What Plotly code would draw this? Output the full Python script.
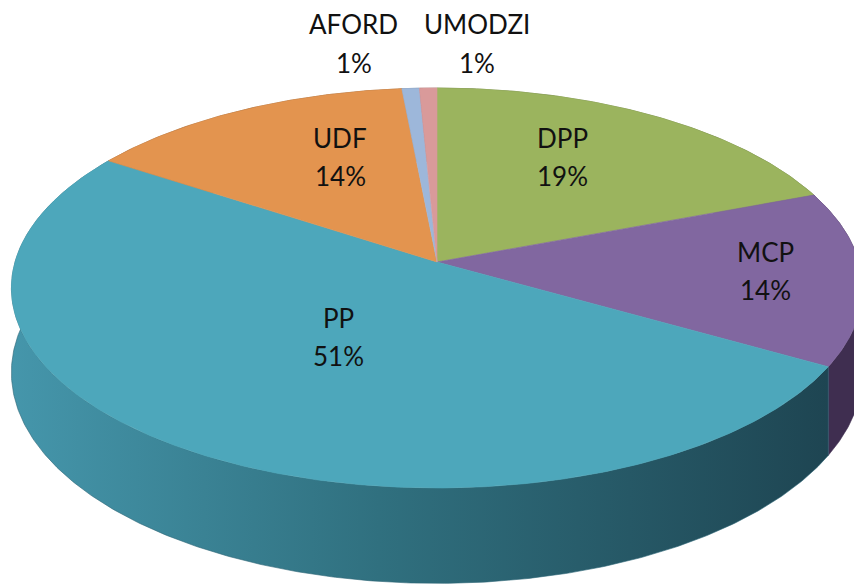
import numpy as np
import plotly.graph_objects as go

# ---- data ----
parties = ["DPP", "MCP", "PP", "UDF", "AFORD", "UMODZI"]
shares = [19.2, 14.1, 51.0, 14.2, 0.75, 0.75]
pct_labels = [f"{round(v)}%" for v in shares]

# ---- style ----
top_colors = ["#9BB45E", "#8167A0", "#4DA7BB", "#E3944F", "#9DB7DA", "#D99A9A"]
side_colors = ["#5E7035", "#3F2E50", "#2C6575", "#8A552A", "#5F7590", "#8A5A5A"]

W, H = 854, 585
CX, CY = 437.0, 262.0      # apex in pixels
RX, RY = 422.0, 196.6      # radii
K = 0.13                   # perspective factor
DEPTH = 83.0

def proj(theta, drop=0.0):
    u = np.sin(theta)
    v = np.cos(theta)
    s = 1.0 / (1.0 + K * v)
    x = CX + RX * u * s
    y = CY - RY * v * s + drop * s
    return x, y

total = sum(shares)
cum = np.concatenate([[0.0], np.cumsum(shares)]) / total
angles = 2 * np.pi * cum

fig = go.Figure()

# side walls
for i, name in enumerate(parties):
    a0, a1 = angles[i], angles[i + 1]
    n = max(4, int((a1 - a0) / (2 * np.pi) * 720))
    t = np.linspace(a0, a1, n)
    xt, yt = proj(t)
    xb, yb = proj(t[::-1], DEPTH)
    xs = np.concatenate([xt, xb, xt[:1]])
    ys = np.concatenate([yt, yb, yt[:1]])
    kw = dict(fillcolor=side_colors[i])
    if name == "PP":
        kw = dict(fillgradient=dict(type="horizontal",
                                    colorscale=[[0, "#4596AB"], [0.45, "#30707F"], [1, "#1E4552"]]))
    fig.add_trace(go.Scatter(x=xs, y=ys, mode="lines", fill="toself",
                             line=dict(width=0.6, color=side_colors[i]),
                             hoverinfo="skip", showlegend=False, **kw))

# top faces
for i, name in enumerate(parties):
    a0, a1 = angles[i], angles[i + 1]
    n = max(4, int((a1 - a0) / (2 * np.pi) * 720))
    t = np.linspace(a0, a1, n)
    xt, yt = proj(t)
    xs = np.concatenate([[CX], xt, [CX]])
    ys = np.concatenate([[CY], yt, [CY]])
    fig.add_trace(go.Scatter(x=xs, y=ys, mode="lines", fill="toself",
                             fillcolor=top_colors[i],
                             line=dict(width=0.6, color=top_colors[i]),
                             hoverinfo="skip", showlegend=False))

# labels
font = dict(family="Lato, 'Open Sans', sans-serif", size=26, color="#111111")
inside = {"DPP": (0.582, 0.718, 0), "MCP": (0.772, 0.0, 9),
          "PP": (0.397, 0.399, 0), "UDF": (0.496, 0.692, 0)}
outside_shift = {"AFORD": -57, "UMODZI": 49}
for i, name in enumerate(parties):
    mid = (angles[i] + angles[i + 1]) / 2
    u, v = np.sin(mid), np.cos(mid)
    s = 1.0 / (1.0 + K * v)
    if name in inside:
        fx, fy, dy = inside[name]
        x = CX + RX * u * s * fx
        y = CY - RY * v * s * fy + dy
        fig.add_annotation(x=x, y=y, text=name, showarrow=False, font=font,
                           xanchor="center", yanchor="middle", yshift=19)
        fig.add_annotation(x=x, y=y, text=pct_labels[i], showarrow=False, font=font,
                           xanchor="center", yanchor="middle", yshift=-19)
    else:
        x, y = proj(mid)
        sh = outside_shift[name]
        fig.add_annotation(x=x, y=y, text=name, showarrow=False, font=font,
                           xanchor="center", yanchor="middle", xshift=sh, yshift=64)
        fig.add_annotation(x=x, y=y, text=pct_labels[i], showarrow=False, font=font,
                           xanchor="center", yanchor="middle", xshift=sh, yshift=25)

fig.update_layout(
    width=W, height=H, autosize=False,
    margin=dict(l=0, r=0, t=0, b=0),
    paper_bgcolor="white", plot_bgcolor="white",
    xaxis=dict(range=[0, W], visible=False, fixedrange=True),
    yaxis=dict(range=[H, 0], visible=False, fixedrange=True),
    showlegend=False,
)
fig.write_html("out.html", config={"displayModeBar": False},
               post_script="document.body.style.margin='0';document.body.style.overflow='hidden';")
